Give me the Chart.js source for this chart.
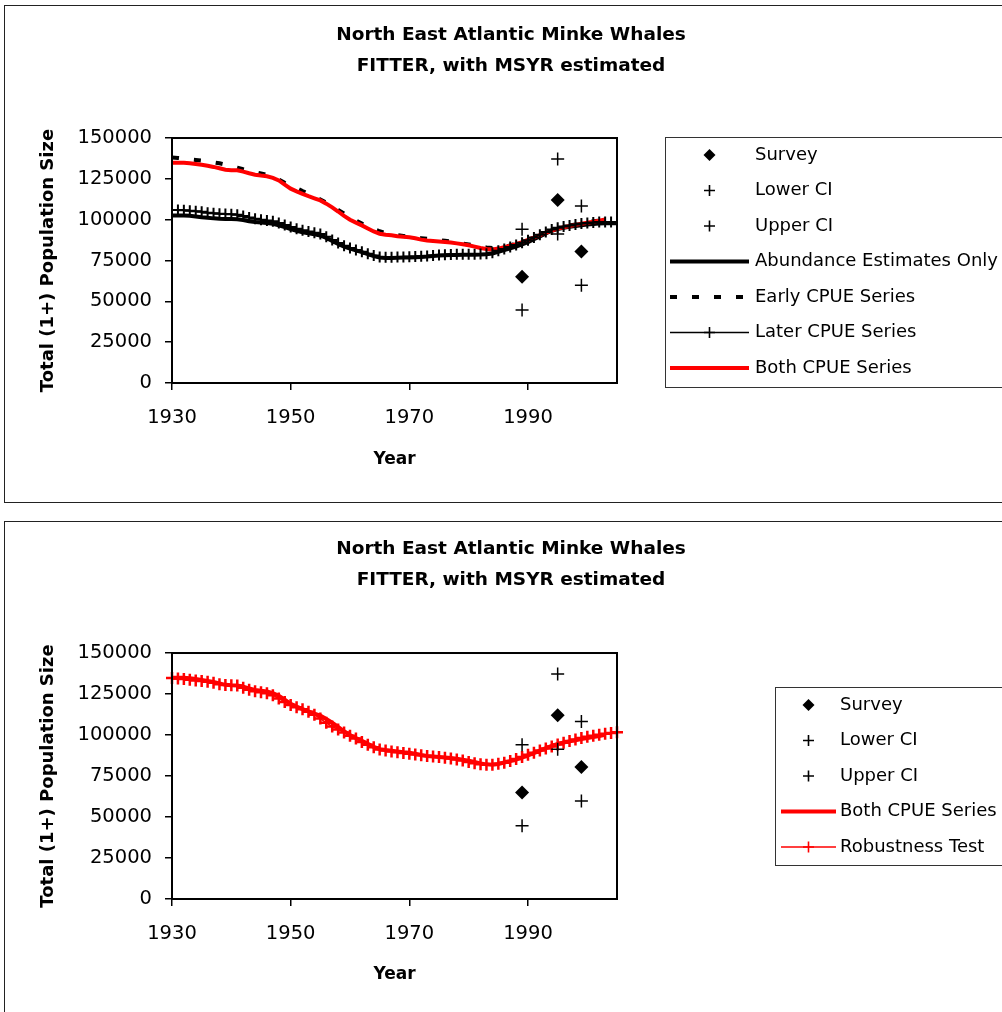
<!DOCTYPE html>
<html>
<head>
<meta charset="utf-8">
<script src="https://cdn.jsdelivr.net/npm/chart.js@4.4.0/dist/chart.umd.min.js"></script>
<style>
  body { margin: 0; background: #fff; overflow: hidden; width: 1002px; height: 1012px; position: relative; }
  .frame { position: absolute; left: 4px; width: 1010px; border: 1px solid #222; }
  canvas { position: absolute; left: 0; }
</style>
</head>
<body>
<div class="frame" style="top:5px;height:496px"></div>
<div class="frame" style="top:521px;height:520px"></div>
<canvas id="top-chart" width="1002" height="500" style="top:0"></canvas>
<canvas id="bottom-chart" width="1002" height="500" style="top:515px"></canvas>
<script>
  var years = [1930, 1931, 1932, 1933, 1934, 1935, 1936, 1937, 1938, 1939,
    1940, 1941, 1942, 1943, 1944, 1945, 1946, 1947, 1948, 1949,
    1950, 1951, 1952, 1953, 1954, 1955, 1956, 1957, 1958, 1959,
    1960, 1961, 1962, 1963, 1964, 1965, 1966, 1967, 1968, 1969,
    1970, 1971, 1972, 1973, 1974, 1975, 1976, 1977, 1978, 1979,
    1980, 1981, 1982, 1983, 1984, 1985, 1986, 1987, 1988, 1989,
    1990, 1991, 1992, 1993, 1994, 1995, 1996, 1997, 1998, 1999,
    2000, 2001, 2002, 2003, 2004, 2005];
  var yearTicks = [1930, 1950, 1970, 1990];

  var surveyYears = [1989, 1995, 1999];
  var survey = [65000, 112000, 80500];
  var lowerCI = [44700, 91300, 59800];
  var upperCI = [94100, 137200, 108300];

  // 1930-2005
  var abundanceOnly = [102500, 102500, 102500, 102400, 102000, 101500, 101200, 100800, 100500, 100400,
    100400, 100300, 99800, 99000, 98500, 98200, 97900, 97500, 96500, 95500,
    94300, 93200, 92300, 91600, 91000, 90300, 88800, 87000, 85200, 83500,
    82300, 81200, 80100, 78900, 77700, 76800, 76500, 76600, 76700, 76800,
    76900, 77000, 77200, 77400, 77700, 78000, 78200, 78300, 78400, 78500,
    78500, 78500, 78600, 78800, 79300, 80300, 81400, 82500, 83500, 84800,
    86300, 88000, 89800, 91600, 93200, 94200, 95000, 95600, 96100, 96600,
    97000, 97400, 97700, 97800, 97800, 97800];
  // 1930-2005
  var laterCPUE = [106000, 106000, 105800, 105500, 105200, 104800, 104300, 104000, 103700, 103500,
    103300, 103000, 102300, 101300, 100600, 100000, 99500, 99000, 98000, 96800,
    95500, 94400, 93500, 92800, 92000, 91200, 89500, 87600, 85700, 84000,
    82700, 81500, 80400, 79200, 78000, 77200, 77000, 77000, 77100, 77200,
    77300, 77400, 77600, 77800, 78100, 78400, 78600, 78700, 78800, 78900,
    78900, 78900, 79000, 79200, 79800, 80900, 82100, 83300, 84500, 85900,
    87400, 89100, 90800, 92500, 94000, 95000, 95800, 96500, 97100, 97600,
    98000, 98300, 98500, 98600, 98600, 98600];
  // 1930-2003
  var earlyCPUE = [138000, 137800, 137400, 137000, 136600, 136200, 135700, 135100, 134500, 133700,
    132900, 131900, 130900, 130000, 129100, 128300, 127500, 126200, 124500, 122600,
    121000, 119300, 117500, 115900, 114200, 112400, 110400, 108200, 106000, 103800,
    101500, 99500, 97600, 95800, 94200, 92900, 91900, 91100, 90500, 90000,
    89500, 89100, 88700, 88300, 87900, 87500, 87100, 86600, 86000, 85400,
    84800, 84200, 83600, 83000, 82600, 82700, 83400, 84300, 85300, 86400,
    87600, 89000, 90500, 92000, 93400, 94600, 95600, 96400, 97100, 97800,
    98400, 99000, 99500, 99900];
  // 1930-2003
  var bothCPUE = [134900, 134900, 134900, 134600, 134100, 133600, 133000, 132300, 131500, 130600,
    130300, 130200, 129400, 128400, 127500, 127000, 126600, 125600, 124000, 121500,
    119000, 117300, 115800, 114400, 113100, 111800, 109800, 107500, 105000, 102300,
    100000, 98200, 96500, 94600, 92800, 91400, 90800, 90400, 89900, 89500,
    89200, 88600, 87800, 87200, 86900, 86600, 86300, 86000, 85500, 85000,
    84300, 83500, 82700, 82100, 81800, 82300, 83200, 84100, 85000, 86200,
    87600, 89000, 90500, 92000, 93300, 94500, 95400, 96100, 96800, 97500,
    98100, 98700, 99400, 100200];
  // 1930-2005
  var robustnessTest = [134700, 134500, 134100, 133700, 133300, 132900, 132500, 131800, 131000, 130500,
    130400, 130200, 128800, 127600, 126700, 126000, 125400, 124200, 122300, 120100,
    118300, 117000, 115700, 114200, 112400, 110000, 107400, 105200, 103400, 101600,
    99600, 97800, 95800, 94000, 92500, 91200, 90500, 90000, 89500, 89000,
    88500, 88100, 87600, 87200, 86900, 86600, 86200, 85700, 85100, 84400,
    83600, 82800, 82100, 81800, 81900, 82400, 83100, 84100, 85300, 86600,
    87900, 89200, 90500, 91700, 93000, 94200, 95300, 96400, 97300, 98100,
    98900, 99600, 100200, 100800, 101300, 101700];

  var titleLines = ['North East Atlantic Minke Whales', 'FITTER, with MSYR estimated'];

  Chart.defaults.font.family = '"DejaVu Sans", sans-serif';
  Chart.defaults.color = '#000';

  function pts(xs, ys) {
    return ys.map(function (v, i) { return { x: xs[i], y: v }; });
  }

  function markerSets() {
    return [
      { label: 'Survey', data: pts(surveyYears, survey), showLine: false, pointStyle: 'rectRot',
        pointRadius: 7, pointBackgroundColor: '#000', pointBorderColor: '#000', pointBorderWidth: 0,
        borderColor: '#000', backgroundColor: '#000', order: 0 },
      { label: 'Lower CI', data: pts(surveyYears, lowerCI), showLine: false, pointStyle: 'cross',
        pointRadius: 6.5, pointBorderColor: '#000', pointBorderWidth: 1.5, borderColor: '#000', order: 0 },
      { label: 'Upper CI', data: pts(surveyYears, upperCI), showLine: false, pointStyle: 'cross',
        pointRadius: 6.5, pointBorderColor: '#000', pointBorderWidth: 1.5, borderColor: '#000', order: 0 }
    ];
  }

  // plot outline
  var plotFrame = {
    id: 'plotFrame',
    afterDatasetsDraw: function (chart) {
      var a = chart.chartArea, ctx = chart.ctx;
      ctx.save();
      ctx.strokeStyle = '#000';
      ctx.lineWidth = 2;
      ctx.strokeRect(a.left, a.top, a.right - a.left, a.bottom - a.top);
      ctx.restore();
    }
  };

  function drawMark(ctx, style, x, y, r) {
    ctx.beginPath();
    if (style === 'rectRot') {
      ctx.moveTo(x, y - r); ctx.lineTo(x + r, y); ctx.lineTo(x, y + r); ctx.lineTo(x - r, y);
      ctx.closePath();
      ctx.fill();
    } else {
      ctx.moveTo(x - r, y); ctx.lineTo(x + r, y);
      ctx.moveTo(x, y - r); ctx.lineTo(x, y + r);
      ctx.stroke();
    }
  }

  // boxed legend like the spreadsheet one
  var boxLegend = {
    id: 'boxLegend',
    afterDraw: function (chart, args, o) {
      var ctx = chart.ctx;
      ctx.save();
      ctx.strokeStyle = '#333';
      ctx.lineWidth = 1;
      ctx.strokeRect(o.left + 0.5, o.top + 0.5, o.width, o.height);
      ctx.font = '18px "DejaVu Sans"';
      ctx.textBaseline = 'middle';
      ctx.textAlign = 'left';
      var cx = (o.x0 + o.x1) / 2;
      chart.data.datasets.forEach(function (ds, i) {
        var y = o.rowTop + i * o.rowGap;
        var col = ds.borderColor;
        if (ds.showLine !== false) {
          ctx.save();
          ctx.strokeStyle = col;
          ctx.lineWidth = ds.borderWidth;
          ctx.setLineDash(ds.borderDash || []);
          ctx.beginPath();
          ctx.moveTo(o.x0, y); ctx.lineTo(o.x1, y);
          ctx.stroke();
          ctx.restore();
        }
        if (ds.pointRadius > 0) {
          ctx.fillStyle = col;
          ctx.strokeStyle = col;
          ctx.lineWidth = 1.6;
          drawMark(ctx, ds.pointStyle, cx, y, ds.pointStyle === 'rectRot' ? 6 : 5.5);
        }
        ctx.fillStyle = '#000';
        ctx.fillText(ds.label, o.textX, y);
      });
      ctx.restore();
    }
  };

  function makeChart(id, datasets, lay) {
    return new Chart(document.getElementById(id).getContext('2d'), {
      type: 'line',
      data: { datasets: datasets },
      plugins: [plotFrame, boxLegend],
      options: {
        responsive: false,
        animation: false,
        devicePixelRatio: 1,
        layout: { padding: { left: 20, right: 0, top: 0, bottom: 0 } },
        elements: { line: { tension: 0 } },
        plugins: {
          legend: { display: false },
          tooltip: { enabled: false },
          title: {
            display: true,
            text: titleLines,
            color: '#000',
            font: { size: 18.5, weight: 'bold', lineHeight: 1.676 },
            padding: { top: lay.titleTop, bottom: lay.titleBottom }
          },
          boxLegend: lay.legend
        },
        scales: {
          x: {
            type: 'linear',
            min: 1930,
            max: 2005,
            afterBuildTicks: function (s) { s.ticks = yearTicks.map(function (v) { return { value: v }; }); },
            afterFit: function (s) { s.height = lay.xHeight; },
            ticks: { font: { size: 19.5 }, padding: 16, callback: function (v) { return String(v); } },
            grid: { drawOnChartArea: false, tickLength: 7, color: '#000', lineWidth: 1.5 },
            border: { color: '#000', width: 2 },
            title: { display: true, text: 'Year', font: { size: 17, weight: 'bold' }, padding: { top: 0, bottom: 30 } }
          },
          y: {
            min: 0,
            max: 150000,
            afterFit: function (s) { s.width = 152; },
            ticks: { stepSize: 25000, font: { size: 19.5 }, padding: 13, callback: function (v) { return String(v); } },
            grid: { drawOnChartArea: false, tickLength: 7, color: '#000', lineWidth: 1.5 },
            border: { color: '#000', width: 2 },
            title: { display: true, text: 'Total (1+) Population Size', font: { size: 18, weight: 'bold' }, padding: { top: 18, bottom: 0 } }
          },
          pad: {
            type: 'linear',
            position: 'right',
            display: true,
            afterFit: function (s) { s.width = 385; },
            ticks: { display: false },
            grid: { display: false },
            border: { display: false }
          }
        }
      }
    });
  }

  var topSets = markerSets().concat([
    { label: 'Abundance Estimates Only', data: pts(years, abundanceOnly), borderColor: '#000',
      borderWidth: 4, pointRadius: 0, order: 3 },
    { label: 'Early CPUE Series', data: pts(years, earlyCPUE), borderColor: '#000',
      borderWidth: 4, borderDash: [7, 15], pointRadius: 0, order: 4 },
    { label: 'Later CPUE Series', data: pts(years, laterCPUE), borderColor: '#000',
      borderWidth: 1.5, pointStyle: 'cross', pointRadius: 5.5, pointBorderColor: '#000', pointBorderWidth: 2, order: 1 },
    { label: 'Both CPUE Series', data: pts(years, bothCPUE), borderColor: '#ff0000',
      borderWidth: 4, pointRadius: 0, order: 2 }
  ]);

  var topChart = makeChart('top-chart', topSets, {
    titleTop: 19.5, titleBottom: 56.5, xHeight: 117,
    legend: { left: 665, top: 137, width: 400, height: 250, rowTop: 155, rowGap: 35.5, x0: 670, x1: 749, textX: 755 }
  });

  var bottomSets = markerSets().concat([
    { label: 'Both CPUE Series', data: pts(years, bothCPUE), borderColor: '#ff0000',
      borderWidth: 4, pointRadius: 0, order: 2 },
    { label: 'Robustness Test', data: pts(years, robustnessTest), borderColor: '#ff0000',
      borderWidth: 1.5, pointStyle: 'cross', pointRadius: 6, pointBorderColor: '#ff0000', pointBorderWidth: 2.5,
      clip: false, order: 1 }
  ]);

  var bottomChart = makeChart('bottom-chart', bottomSets, {
    titleTop: 18.5, titleBottom: 57.5, xHeight: 116,
    legend: { left: 775, top: 172, width: 300, height: 178, rowTop: 190, rowGap: 35.5, x0: 781, x1: 836, textX: 840 }
  });
</script>
</body>
</html>
